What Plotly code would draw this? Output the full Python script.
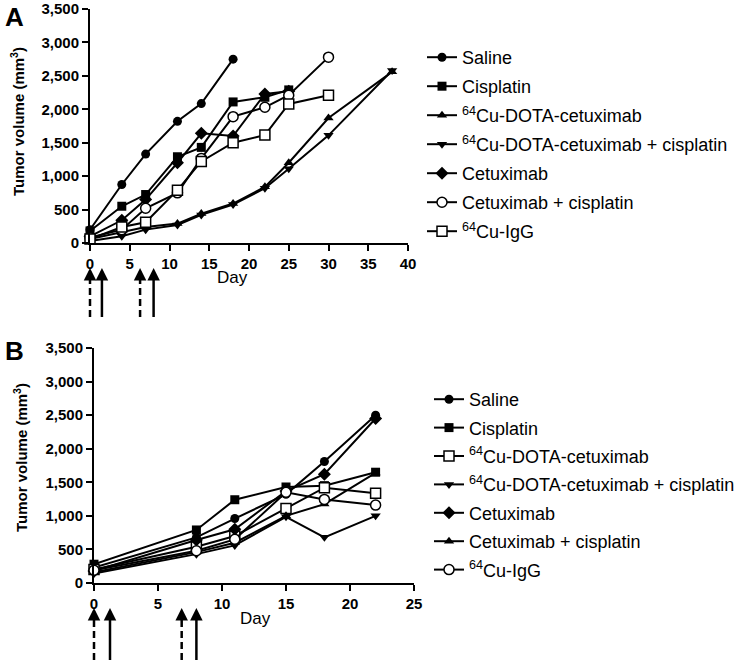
import plotly.graph_objects as go

# ---------------- data ----------------
series_names_A = ["Saline", "Cisplatin", "<sup>64</sup>Cu-DOTA-cetuximab",
                  "<sup>64</sup>Cu-DOTA-cetuximab + cisplatin", "Cetuximab",
                  "Cetuximab + cisplatin", "<sup>64</sup>Cu-IgG"]
days_A = [0, 4, 7, 11, 14, 18, 22, 25, 30, 38]
saline_A = [200, 875, 1330, 1820, 2085, 2750]
cisplatin_A = [180, 550, 725, 1290, 1430, 2110, 2180, 2290]
dota_A = [60, 160, 240, 290, 440, 590, 840, 1200, 1870, 2560]
dota_cis_A = [30, 100, 200, 270, 420, 575, 820, 1110, 1610, 2580]
cetux_A = [100, 340, 650, 1200, 1640, 1600, 2230, 2270]
cetux_cis_A = [80, 200, 520, 750, 1265, 1890, 2030, 2210, 2780]
igg_A = [60, 240, 310, 790, 1220, 1500, 1615, 2080, 2210]

series_names_B = ["Saline", "Cisplatin", "<sup>64</sup>Cu-DOTA-cetuximab",
                  "<sup>64</sup>Cu-DOTA-cetuximab + cisplatin", "Cetuximab",
                  "Cetuximab + cisplatin", "<sup>64</sup>Cu-IgG"]
days_B = [0, 8, 11, 15, 18, 22]
saline_B = [230, 680, 960, 1320, 1810, 2500]
cisplatin_B = [280, 790, 1240, 1430, 1450, 1650]
dota_B = [200, 540, 700, 1110, 1420, 1335]
dota_cis_B = [140, 430, 560, 985, 680, 1000]
cetux_B = [180, 640, 800, 1370, 1620, 2450]
cetux_cis_B = [160, 460, 600, 1000, 1175, 1640]
igg_B = [190, 480, 650, 1350, 1245, 1160]

y_ticks = [0, 500, 1000, 1500, 2000, 2500, 3000, 3500]
x_ticks_A = [0, 5, 10, 15, 20, 25, 30, 35, 40]
x_ticks_B = [0, 5, 10, 15, 20, 25]

# treatment arrows (day, dashed?)
arrows_A = [(0, True), (1.5, False), (6.3, True), (8.0, False)]
arrows_B = [(0, True), (1.25, False), (6.85, True), (8.0, False)]

# ---------------- page geometry (body margin removed via post_script) ----------------
W, H = 750, 661


def xp(px):
    return px / W


def yp(py):
    return (H - py) / H


# ---------------- styles ----------------
FONT = "Liberation Sans, Arial, sans-serif"
filled = dict(color="black")
openm = dict(color="white", line=dict(color="black", width=1.5))

styles_A = [
    dict(symbol="circle", size=9, **filled),
    dict(symbol="square", size=9, **filled),
    dict(symbol="triangle-up", size=9, **filled),
    dict(symbol="triangle-down", size=9, **filled),
    dict(symbol="diamond", size=10, **filled),
    dict(symbol="circle", size=10, **openm),
    dict(symbol="square", size=10, **openm),
]
styles_B = [
    dict(symbol="circle", size=9, **filled),
    dict(symbol="square", size=9, **filled),
    dict(symbol="square", size=10, **openm),
    dict(symbol="triangle-down", size=9, **filled),
    dict(symbol="diamond", size=10, **filled),
    dict(symbol="triangle-up", size=9, **filled),
    dict(symbol="circle", size=10, **openm),
]

fig = go.Figure()

vals_A = [saline_A, cisplatin_A, dota_A, dota_cis_A, cetux_A, cetux_cis_A, igg_A]
for i, (name, vals) in enumerate(zip(series_names_A, vals_A)):
    fig.add_trace(go.Scatter(
        x=days_A[:len(vals)], y=vals, name=name, mode="lines+markers",
        line=dict(color="black", width=2), marker=styles_A[i],
        xaxis="x", yaxis="y", legend="legend", legendgroup="A%d" % i,
        cliponaxis=False))

vals_B = [saline_B, cisplatin_B, dota_B, dota_cis_B, cetux_B, cetux_cis_B, igg_B]
for i, (name, vals) in enumerate(zip(series_names_B, vals_B)):
    fig.add_trace(go.Scatter(
        x=days_B[:len(vals)], y=vals, name=name, mode="lines+markers",
        line=dict(color="black", width=2), marker=styles_B[i],
        xaxis="x2", yaxis="y2", legend="legend2", legendgroup="B%d" % i,
        cliponaxis=False))

tickfont = dict(family=FONT, size=15, color="black", weight="bold")
axis_common = dict(showline=True, linewidth=2, linecolor="black", ticks="outside",
                   ticklen=6, tickwidth=2, tickcolor="black", showgrid=False,
                   zeroline=False, tickfont=tickfont, automargin=False)

dom_xA = [xp(90), xp(408)]
dom_xB = [xp(94), xp(414)]
range_xA = [0, 40]
range_xB = [0, 25]

fig.update_layout(
    template="none",
    width=W, height=H, margin=dict(l=0, r=0, t=0, b=0, autoexpand=False),
    paper_bgcolor="white", plot_bgcolor="white",
    font=dict(family=FONT, color="black"),
    xaxis=dict(domain=dom_xA, range=range_xA, tickvals=x_ticks_A,
               anchor="y", **axis_common),
    yaxis=dict(domain=[yp(243), yp(9)], range=[0, 3500], tickvals=y_ticks,
               tickformat=",d", anchor="x", **axis_common),
    xaxis2=dict(domain=dom_xB, range=range_xB, tickvals=x_ticks_B,
                anchor="y2", **axis_common),
    yaxis2=dict(domain=[yp(583), yp(348)], range=[0, 3500], tickvals=y_ticks,
                tickformat=",d", anchor="x2", **axis_common),
    legend=dict(x=xp(422), y=yp(39), xanchor="left", yanchor="top",
                font=dict(family=FONT, size=18, color="black"),
                traceorder="grouped", tracegroupgap=2.6, bgcolor="rgba(0,0,0,0)"),
    legend2=dict(x=xp(429), y=yp(381), xanchor="left", yanchor="top",
                 font=dict(family=FONT, size=18, color="black"),
                 traceorder="grouped", tracegroupgap=2, bgcolor="rgba(0,0,0,0)"),
)


def label(text, xpx, ypx, size, angle=0):
    return dict(text=text, x=xp(xpx), y=yp(ypx), xref="paper", yref="paper",
                xanchor="center", yanchor="middle", showarrow=False, textangle=angle,
                font=dict(size=size, family=FONT, color="black"))


annotations = [
    label("<b>A</b>", 14, 17, 26),
    label("<b>B</b>", 14, 351, 26),
    label("<b>Tumor volume (mm<sup>3</sup>)</b>", 17, 122, 15, -90),
    label("<b>Tumor volume (mm<sup>3</sup>)</b>", 20, 458, 15, -90),
    label("Day", 232, 277, 17),
    label("Day", 255, 618, 17),
]


def day_to_paper(day, dom, rng):
    # same linear mapping the x axis uses, so shapes are not clipped at the axis edge
    return dom[0] + (day - rng[0]) / (rng[1] - rng[0]) * (dom[1] - dom[0])


shapes = []
for arrows, dom, rng, tip, bottom in [(arrows_A, dom_xA, range_xA, yp(268), yp(317)),
                                      (arrows_B, dom_xB, range_xB, yp(608), yp(660))]:
    for day, dashed in arrows:
        xpap = day_to_paper(day, dom, rng)
        shapes.append(dict(type="line", xref="paper", yref="paper", x0=xpap, x1=xpap,
                           y0=bottom, y1=tip - 10 / H,
                           line=dict(color="black", width=2.5,
                                     dash="7px,4px" if dashed else "solid")))
        annotations.append(dict(x=xpap, y=tip, xref="paper", yref="paper", text="",
                                showarrow=True, ax=0, ay=12, axref="pixel", ayref="pixel",
                                arrowhead=2, arrowsize=1.0, arrowwidth=2.5,
                                arrowcolor="black", standoff=0))

fig.update_layout(annotations=annotations, shapes=shapes)
fig.write_html("out.html", config={"displayModeBar": False},
               post_script="document.body.style.margin='0';")
